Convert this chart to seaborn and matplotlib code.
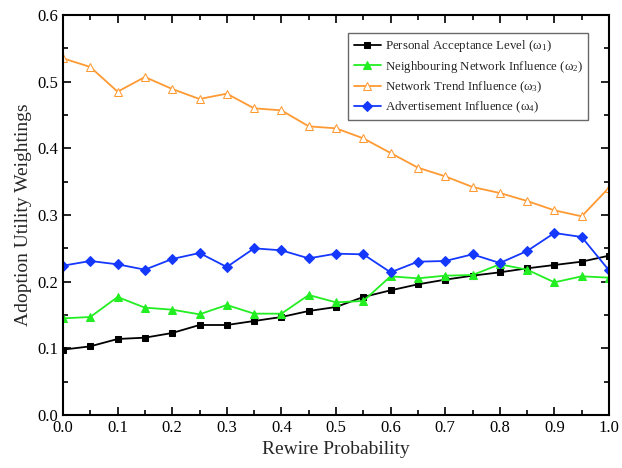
import numpy as np
import pandas as pd
import matplotlib
matplotlib.use('Agg')
import matplotlib.pyplot as plt
import seaborn as sns
from matplotlib.ticker import MultipleLocator

# --- data ---
rewire = [0.0, 0.05, 0.1, 0.15, 0.2, 0.25, 0.3, 0.35, 0.4, 0.45, 0.5,
          0.55, 0.6, 0.65, 0.7, 0.75, 0.8, 0.85, 0.9, 0.95, 1.0]
personal = [0.098, 0.103, 0.114, 0.116, 0.123, 0.135, 0.135, 0.141, 0.147, 0.156, 0.162,
            0.177, 0.187, 0.196, 0.203, 0.209, 0.214, 0.220, 0.225, 0.230, 0.239]
neighbour = [0.145, 0.147, 0.177, 0.161, 0.158, 0.151, 0.165, 0.152, 0.152, 0.180, 0.169,
             0.171, 0.208, 0.205, 0.209, 0.210, 0.226, 0.218, 0.199, 0.208, 0.206]
trend = [0.535, 0.522, 0.485, 0.507, 0.489, 0.474, 0.482, 0.460, 0.457, 0.433, 0.430,
         0.415, 0.393, 0.371, 0.358, 0.342, 0.333, 0.321, 0.307, 0.298, 0.341]
advert = [0.224, 0.231, 0.226, 0.218, 0.234, 0.243, 0.222, 0.250, 0.247, 0.235, 0.242,
          0.241, 0.214, 0.230, 0.231, 0.241, 0.228, 0.246, 0.273, 0.267, 0.217]
labels = ['Personal Acceptance Level (ω$_1$)',
          'Neighbouring Network Influence (ω$_2$)',
          'Network Trend Influence (ω$_3$)',
          'Advertisement Influence (ω$_4$)']

sns.set_theme(style='ticks')
plt.rcParams['font.family'] = ['Liberation Serif', 'DejaVu Serif']
plt.rcParams['mathtext.fontset'] = 'custom'
plt.rcParams['mathtext.rm'] = 'Liberation Serif'
plt.rcParams['mathtext.it'] = 'Liberation Serif:italic'

fig = plt.figure(figsize=(6.22, 4.68), dpi=100)
ax = fig.add_axes([63 / 622, 1 - 415 / 468, 546 / 622, 400 / 468])

styles = [
    (personal, 'black', 's', 'black'),
    (neighbour, '#22ee22', '^', '#22ee22'),
    (trend, '#ff9a33', '^', 'white'),
    (advert, '#1538ff', 'D', '#1538ff'),
]
for (vals, col, mk, face), lab in zip(styles, labels):
    df = pd.DataFrame({'x': rewire, 'y': vals})
    sns.lineplot(data=df, x='x', y='y', ax=ax, color=col, marker=mk,
                 markerfacecolor=face, markeredgecolor=col,
                 markersize=5 if mk != '^' else 6, linewidth=1.3, label=lab)

ax.set_xlim(0, 1.0)
ax.set_ylim(0, 0.6)
ax.xaxis.set_major_locator(MultipleLocator(0.1))
ax.xaxis.set_minor_locator(MultipleLocator(0.05))
ax.yaxis.set_major_locator(MultipleLocator(0.1))
ax.yaxis.set_minor_locator(MultipleLocator(0.05))
ax.tick_params(which='both', direction='in', top=True, right=True, width=1.2,
               labelsize=12, colors='black')
ax.tick_params(which='major', length=6)
ax.tick_params(which='minor', length=3.5)
for s in ax.spines.values():
    s.set_linewidth(1.5)
    s.set_color('black')
ax.set_xlabel('Rewire Probability', fontsize=14)
ax.set_ylabel('Adoption Utility Weightings', fontsize=14)

leg = ax.legend(loc='upper right', bbox_to_anchor=(0.9615, 0.955), borderaxespad=0,
                fontsize=9.3, frameon=True, fancybox=False, handlelength=2.1,
                borderpad=0.4, labelspacing=0.36, handletextpad=0.3)
leg.get_frame().set_edgecolor('#444444')
leg.get_frame().set_linewidth(1.0)

fig.savefig('out.png', dpi=100)
